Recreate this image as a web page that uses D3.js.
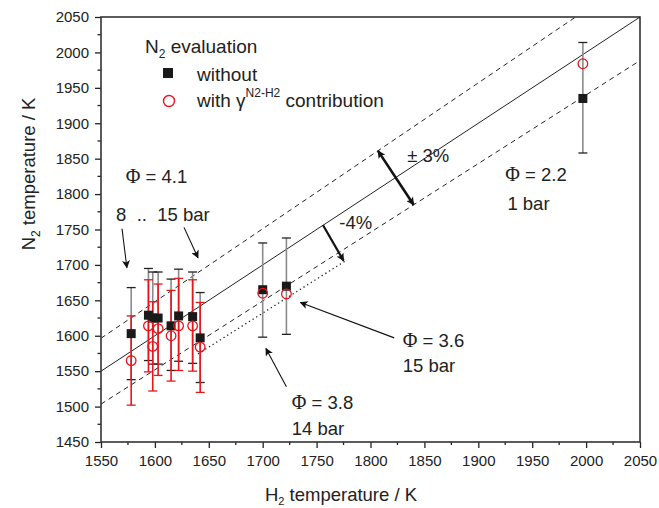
<!DOCTYPE html>
<html><head><meta charset="utf-8">
<script src="https://cdn.jsdelivr.net/npm/d3@7"></script>
<style>
body{margin:0;background:#fff;}
text{font-family:"Liberation Sans",Arial,sans-serif;fill:#222;white-space:pre;}
.phi{font-family:"Liberation Serif","Times New Roman",serif;}
</style></head><body>
<svg id="c" width="659" height="508"></svg>
<script>
// ---- data ----
const h2Temp        = [1578,1594,1598,1603,1615,1622,1635,1642,1700,1722,1997];
const n2Without     = [1603,1629,1625,1625,1614,1628,1627,1597,1665,1670,1935];
const n2WithGamma   = [1565,1614,1585,1610,1600,1614,1614,1584,1660,1659,1984];
const errWithoutLow = [1538,1565,1560,1560,1551,1564,1561,1534,1598,1602,1858];
const errWithoutHigh= [1668,1695,1690,1690,1680,1694,1690,1661,1731,1738,2014];
const errWithLow    = [1502,1549,1522,1544,1536,1551,1550,1520,null,null,null];
const errWithHigh   = [1628,1679,1648,1673,1664,1681,1679,1647,null,null,null];
const xTicks = [1550,1600,1650,1700,1750,1800,1850,1900,1950,2000,2050];
const yTicks = [1450,1500,1550,1600,1650,1700,1750,1800,1850,1900,1950,2000,2050];
const xDomain = [1550,2050], yDomain = [1450,2050];
// reference lines: factor, x range
const refLines = [
  {k:1.00, x0:1550, x1:2050, dash:null},
  {k:1.03, x0:1550, x1:1990.3, dash:"5,4"},
  {k:0.97, x0:1550, x1:2050, dash:"5,4"},
  {k:0.96, x0:1640, x1:1778, dash:"1.3,3"}
];

const svg = d3.select("#c");
const L=101, R=640, T=17, B=442;
const x = d3.scaleLinear().domain(xDomain).range([L,R]);
const y = d3.scaleLinear().domain(yDomain).range([B,T]);
const red = "#e8151c";

// defs arrows
const defs = svg.append("defs");
function marker(id, w, h){
  defs.append("marker").attr("id",id).attr("viewBox","0 0 10 10").attr("refX",9).attr("refY",5)
    .attr("markerWidth",w).attr("markerHeight",h).attr("markerUnits","userSpaceOnUse").attr("orient","auto-start-reverse")
    .append("path").attr("d","M0,0L10,5L0,10L2.5,5Z").attr("fill","#111");
}
marker("ah",11,8); marker("ahb",11,8);

// minor ticks
const xMinor = d3.range(1575,2050,50), yMinor = d3.range(1475,2050,50);
const gx = svg.append("g").attr("transform",`translate(0,${B})`)
  .call(d3.axisBottom(x).tickValues(xTicks).tickSize(6).tickPadding(7).tickFormat(d3.format("d")));
const gy = svg.append("g").attr("transform",`translate(${L},0)`)
  .call(d3.axisLeft(y).tickValues(yTicks).tickSize(6).tickPadding(6).tickFormat(d3.format("d")));
[gx,gy].forEach(g=>{g.selectAll("text").style("font-size","15px").attr("fill","#222");
  g.selectAll("line").attr("stroke","#222").attr("stroke-width",1.3);
  g.select(".domain").remove();});
svg.append("g").selectAll("line").data(xMinor).join("line")
  .attr("x1",d=>x(d)).attr("x2",d=>x(d)).attr("y1",B).attr("y2",B+3).attr("stroke","#222").attr("stroke-width",1.3);
svg.append("g").selectAll("line").data(yMinor).join("line")
  .attr("y1",d=>y(d)).attr("y2",d=>y(d)).attr("x1",L).attr("x2",L-3.5).attr("stroke","#222").attr("stroke-width",1.3);
// frame
svg.append("rect").attr("x",L).attr("y",T).attr("width",R-L).attr("height",B-T)
  .attr("fill","none").attr("stroke","#333").attr("stroke-width",1.6);

// reference lines
svg.append("g").selectAll("line").data(refLines).join("line")
  .attr("x1",d=>x(d.x0)).attr("y1",d=>y(d.k*d.x0)).attr("x2",d=>x(d.x1)).attr("y2",d=>y(d.k*d.x1))
  .attr("stroke","#222").attr("stroke-width",d=>d.dash&&d.dash.startsWith("1.")?1.3:1)
  .attr("stroke-dasharray",d=>d.dash);

// error bars
const idx = d3.range(h2Temp.length);
const cap = 4.5;
function errBars(lo, hi, col, capCol){
  const g = svg.append("g");
  const ii = idx.filter(i=>lo[i]!=null);
  g.selectAll(".v").data(ii).join("line").attr("x1",i=>x(h2Temp[i])).attr("x2",i=>x(h2Temp[i]))
    .attr("y1",i=>y(lo[i])).attr("y2",i=>y(hi[i])).attr("stroke",col).attr("stroke-width",1.6);
  [lo,hi].forEach(arr=>{
    g.selectAll(null).data(ii).join("line").attr("x1",i=>x(h2Temp[i])-cap).attr("x2",i=>x(h2Temp[i])+cap)
      .attr("y1",i=>y(arr[i])).attr("y2",i=>y(arr[i])).attr("stroke",capCol).attr("stroke-width",1.3);
  });
}
errBars(errWithoutLow, errWithoutHigh, "#8a8a8a", "#222");
errBars(errWithLow, errWithHigh, red, red);

// markers
svg.append("g").selectAll("rect").data(idx).join("rect")
  .attr("x",i=>x(h2Temp[i])-4.5).attr("y",i=>y(n2Without[i])-4.5).attr("width",9).attr("height",9).attr("fill","#1a1a1a");
svg.append("g").selectAll("circle").data(idx).join("circle")
  .attr("cx",i=>x(h2Temp[i])).attr("cy",i=>y(n2WithGamma[i])).attr("r",4.8)
  .attr("fill","none").attr("stroke",red).attr("stroke-width",1.3);

// annotation arrows (data coords)
const arrows = [
  {a:[1807,1861], b:[1840,1785], w:2.6, both:true},
  {a:[1756,1756], b:[1775,1706], w:2.2, both:false},
  {a:[1569.5,1751], b:[1574,1696], w:1.1, both:false},
  {a:[1627,1753], b:[1640,1710], w:1.1, both:false},
  {a:[1822,1597], b:[1735,1647], w:1.1, both:false},
  {a:[1722,1528], b:[1703,1582], w:1.1, both:false}
];
svg.append("g").selectAll("line").data(arrows).join("line")
  .attr("x1",d=>x(d.a[0])).attr("y1",d=>y(d.a[1])).attr("x2",d=>x(d.b[0])).attr("y2",d=>y(d.b[1]))
  .attr("stroke","#111").attr("stroke-width",d=>d.w)
  .attr("marker-end","url(#ah)").attr("marker-start",d=>d.both?"url(#ahb)":null);

// annotation texts (data coords)
const notes = [
  {t:"Φ = 4.1", x:1573, y:1815},
  {t:"8  ..  15 bar", x:1564, y:1762},
  {t:"± 3%", x:1834, y:1846},
  {t:"-4%", x:1771, y:1751},
  {t:"Φ = 2.2", x:1925, y:1818},
  {t:"1 bar", x:1927, y:1777},
  {t:"Φ = 3.6", x:1830, y:1584},
  {t:"15 bar", x:1830, y:1549},
  {t:"Φ = 3.8", x:1727, y:1496},
  {t:"14 bar", x:1727, y:1460}
];
const nt = svg.append("g").selectAll("text").data(notes).join("text")
  .attr("x",d=>x(d.x)).attr("y",d=>y(d.y)).style("font-size","18.5px");
nt.each(function(d){
  const s=d3.select(this);
  if(d.t.startsWith("Φ")){ s.append("tspan").attr("class","phi").style("font-size","20px").text("Φ"); s.append("tspan").text(d.t.slice(1)); }
  else s.text(d.t);
});

// legend
const lg = svg.append("g");
const t1 = lg.append("text").attr("x",145).attr("y",53).style("font-size","19px");
t1.append("tspan").text("N");
t1.append("tspan").attr("dy",5).style("font-size","12px").text("2");
t1.append("tspan").attr("dy",-5).text(" evaluation");
lg.append("rect").attr("x",163).attr("y",68).attr("width",10).attr("height",10).attr("fill","#1a1a1a");
lg.append("text").attr("x",197).attr("y",81).style("font-size","19px").text("without");
lg.append("circle").attr("cx",169).attr("cy",101).attr("r",5.5).attr("fill","none").attr("stroke",red).attr("stroke-width",1.4);
const t3 = lg.append("text").attr("x",197).attr("y",107).style("font-size","19px");
t3.append("tspan").text("with γ");
t3.append("tspan").attr("dy",-10).style("font-size","12px").text("N2-H2");
t3.append("tspan").attr("dy",10).text(" contribution");

// axis titles
const xt = svg.append("text").attr("x",341).attr("y",501).attr("text-anchor","middle").style("font-size","18.5px");
xt.append("tspan").text("H");
xt.append("tspan").attr("dy",4).style("font-size","11px").text("2");
xt.append("tspan").attr("dy",-4).text(" temperature / K");
const yt = svg.append("text").attr("transform","translate(35,174) rotate(-90)").attr("text-anchor","middle").style("font-size","18.5px");
yt.append("tspan").text("N");
yt.append("tspan").attr("dy",5).style("font-size","12px").text("2");
yt.append("tspan").attr("dy",-5).text(" temperature / K");
</script></body></html>
